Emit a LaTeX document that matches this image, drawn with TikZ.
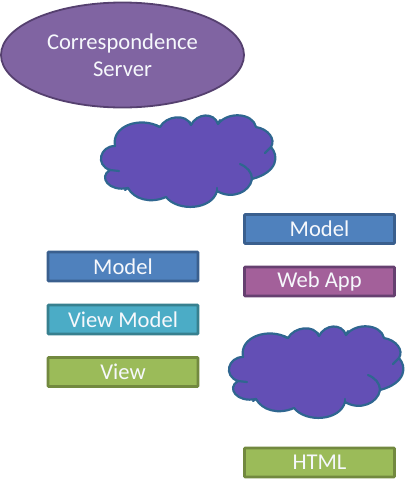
\documentclass[tikz,border=0pt]{standalone}
\usepackage{fontspec}
\usetikzlibrary{shapes.geometric}
\setmainfont{Carlito}
\definecolor{blueF}{HTML}{4F81BD}\definecolor{blueD}{HTML}{3A5F8E}
\definecolor{purF}{HTML}{8064A2}\definecolor{purD}{HTML}{55406F}
\definecolor{webF}{HTML}{A3609A}\definecolor{webD}{HTML}{664070}
\definecolor{tealF}{HTML}{4BACC6}\definecolor{tealD}{HTML}{37808F}
\definecolor{grnF}{HTML}{9BBB59}\definecolor{grnD}{HTML}{72893F}
\definecolor{cloudF}{HTML}{634FB5}\definecolor{cloudD}{HTML}{2F6690}
\definecolor{txt}{HTML}{F6F8FC}
\tikzset{
  x=1pt,y=-1pt,
  box/.style={rectangle,draw=#1D,fill=#1F,line width=2.6pt,minimum width=150pt,minimum height=29pt,inner sep=0pt,text=txt,font=\fontsize{22.6}{26}\selectfont,rounded corners=0.6pt},
  cloudline/.style={draw=cloudD,line width=2.2pt,line join=round,line cap=round},
  cloudshape/.pic={
    \path[cloudline,fill=cloudF]
      (115,146) .. controls (111,126) and (140,116) .. (160,127)
      .. controls (166,116) and (186,113) .. (191,125)
      .. controls (197,113) and (214,112) .. (218,124)
      .. controls (228,111) and (253,113) .. (256,127)
      .. controls (268,129) and (276,139) .. (271,147)
      .. controls (279,156) and (278,172) .. (252,179)
      .. controls (250,192) and (232,200) .. (217,191)
      .. controls (212,210) and (178,212) .. (166,197)
      .. controls (150,204) and (134,199) .. (128,188)
      .. controls (109,192) and (98,177) .. (110,170)
      .. controls (95,165) and (100,146) .. (115,146) -- cycle;
    \path[cloudline] (110,170) -- (119,171);
    \path[cloudline] (160,127) -- (155,125);
    \path[cloudline] (191,125) -- (190,122);
    \path[cloudline] (218,124) -- (220,120);
    \path[cloudline] (271,147) -- (265,153);
    \path[cloudline] (252,179) .. controls (252,172) and (247,167) .. (240,164);
    \path[cloudline] (217,191) -- (217,188);
    \path[cloudline] (128,188) -- (125,190);
  }
}
\begin{document}
\begin{tikzpicture}
\useasboundingbox (0,0) rectangle (406,480);
\node[ellipse,draw=purD,fill=purF,line width=1.8pt,minimum width=243pt,minimum height=105pt,inner sep=0pt,text=txt,align=center,font=\fontsize{22.6}{27.5}\selectfont] (server) at (122.5,55) {Correspondence\\Server};
\path (0,0) pic {cloudshape};
\path (128,211) pic {cloudshape};
\node[box=blue] (modelA) at (123,266.5) {Model};
\node[box=teal] (viewmodel) at (123,319.5) {View Model};
\node[box=grn] (view) at (123,372) {View};
\node[box=blue] (modelB) at (319.5,229) {Model};
\node[box=web] (webapp) at (319.5,281.5) {Web App};
\node[box=grn] (html) at (319.5,462.5) {HTML};
\end{tikzpicture}
\end{document}
